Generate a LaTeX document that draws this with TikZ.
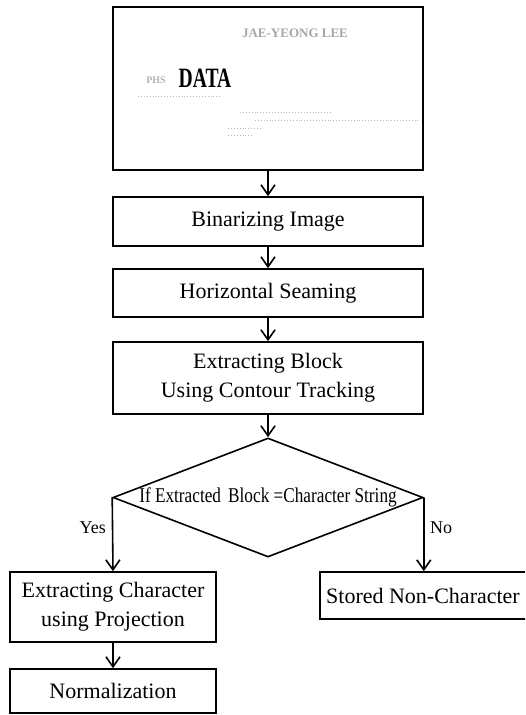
\documentclass[tikz,border=0pt]{standalone}
\usepackage{fontspec}
\setmainfont{Liberation Serif}
\usetikzlibrary{arrows.meta,shapes.geometric}
\tikzset{
  box/.style={draw, line width=1.6pt, rectangle, inner sep=0pt, align=center,
    font=\fontsize{22}{29}\selectfont},
  conn/.style={line width=1.6pt, -{Straight Barb[length=10pt,width=14pt,line width=1.6pt]}},
  lbl/.style={inner sep=0pt, font=\fontsize{18}{18}\selectfont},
  noise/.style={gray!55, line width=0.9pt, dotted},
}
\begin{document}
\begin{tikzpicture}[x=1pt,y=-1pt]
\useasboundingbox (0,0) rectangle (525,715);
\clip (0,0) rectangle (525,715);
% scanned card
\node[box, minimum width=310pt, minimum height=163pt] (card) at (268,88.5) {};
\node[inner sep=0pt, text=gray!70, font=\fontsize{13}{13}\bfseries\selectfont] (name) at (295,33) {JAE-YEONG LEE};
\node[inner sep=0pt, font=\fontsize{28}{28}\bfseries\selectfont] (data) at (205,78) {\scalebox{0.7}[1]{DATA}};
\node[inner sep=0pt, text=gray!60, font=\fontsize{10}{10}\bfseries\selectfont] (phs) at (156,80) {PHS};
\draw[noise] (138,96) -- (220,96);
\draw[noise] (240,112) -- (332,112);
\draw[noise] (255,120) -- (420,120);
\draw[noise] (228,128) -- (262,128);
\draw[noise] (228,135) -- (252,135);
% process boxes
\node[box, minimum width=310pt, minimum height=49pt] (bin) at (268,221.5) {Binarizing Image};
\node[box, minimum width=310pt, minimum height=48pt] (hor) at (268,293) {Horizontal Seaming};
\node[box, minimum width=310pt, minimum height=72pt] (blk) at (268,378) {Extracting Block\\Using Contour Tracking};
\node[draw, diamond, line width=1.6pt, inner sep=0pt, minimum width=310pt, minimum height=119pt] (dec) at (268,497.5) {};
\node[inner sep=0pt, font=\fontsize{21}{21}\selectfont] (dect) at (268,497) {\scalebox{0.82}[1]{If Extracted\, Block =Character String}};
\node[box, minimum width=206pt, minimum height=70pt] (ec) at (113,607) {Extracting Character\\using Projection};
\node[box, minimum width=206pt, minimum height=44pt] (norm) at (113,691) {Normalization};
\node[box, minimum width=214pt, minimum height=47pt] (st) at (427,595.5) {\hspace*{-8pt}Stored Non-Character};
% connectors
\draw[conn] (card.south) -- (bin.north);
\draw[conn] (bin.south) -- (hor.north);
\draw[conn] (hor.south) -- (blk.north);
\draw[conn] (blk.south) -- (dec.north);
\draw[conn] (dec.west) -- (ec.north);
\draw[conn] (dec.east) -- (dec.east |- st.north);
\draw[conn] (ec.south) -- (norm.north);
\node[lbl, anchor=east] (yes) at (106,528) {Yes};
\node[lbl, anchor=west] (no) at (430,528) {No};
\end{tikzpicture}
\end{document}
